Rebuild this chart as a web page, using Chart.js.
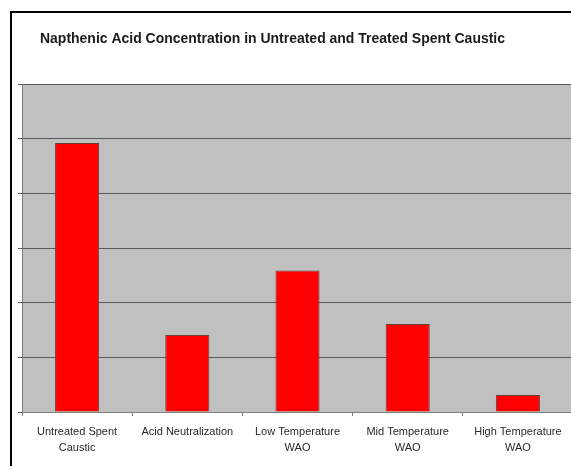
<!DOCTYPE html>
<html>
<head>
<meta charset="utf-8">
<script src="https://cdn.jsdelivr.net/npm/chart.js@4/dist/chart.umd.min.js"></script>
<style>
  html, body { margin: 0; padding: 0; background: #fff; overflow: hidden; }
  #wrap { width: 571px; height: 466px; overflow: hidden; position: relative; }
  canvas { position: absolute; left: 0; top: 0; }
</style>
</head>
<body>
<div id="wrap"><canvas id="chart" width="580" height="466"></canvas></div>
<script>
const chartTitle = "Napthenic Acid Concentration in Untreated and Treated Spent Caustic";
const categories = [
    ["Untreated Spent", "Caustic"],
    ["Acid Neutralization"],
    ["Low Temperature", "WAO"],
    ["Mid Temperature", "WAO"],
    ["High Temperature", "WAO"]
];
const concentrations = [4.92, 1.41, 2.59, 1.61, 0.31];
const yTicks = [0, 1, 2, 3, 4, 5, 6];

// frame lines + title, drawn outside the chart area
const framePlugin = {
    id: "frame",
    beforeDraw(chart) {
        const ctx = chart.ctx;
        ctx.save();
        ctx.fillStyle = "#fff";
        ctx.fillRect(0, 0, chart.width, chart.height);
        ctx.fillStyle = "#000";
        ctx.fillRect(10, 11, 2, chart.height - 11);
        ctx.fillRect(10, 11, chart.width - 10, 2);
        // gray plot background
        const a = chart.chartArea;
        ctx.fillStyle = "#c0c0c0";
        ctx.fillRect(a.left, a.top, a.right - a.left, a.bottom - a.top);
        ctx.restore();
    },
    afterDraw(chart) {
        const ctx = chart.ctx;
        ctx.save();
        ctx.font = "bold 15px 'Liberation Sans', Arial, sans-serif";
        ctx.fillStyle = "#1a1a1a";
        ctx.textBaseline = "middle";
        const w = ctx.measureText(chartTitle).width;
        ctx.translate(40, 39);
        ctx.scale(465 / w, 1);
        ctx.fillText(chartTitle, 0, 0);
        ctx.restore();
    }
};

new Chart(document.getElementById("chart"), {
    type: "bar",
    data: {
        labels: categories,
        datasets: [{
            data: concentrations,
            backgroundColor: "#ff0000",
            borderColor: "#6e3b3b",
            borderWidth: 1,
            barPercentage: 0.4,
            categoryPercentage: 1
        }]
    },
    options: {
        responsive: false,
        animation: false,
        layout: { padding: { left: 18, right: 7, top: 84, bottom: 2 } },
        plugins: {
            legend: { display: false },
            tooltip: { enabled: false }
        },
        scales: {
            x: {
                offset: true,
                grid: {
                    offset: true,
                    drawOnChartArea: false,
                    drawTicks: true,
                    tickLength: 4,
                    color: "#808080"
                },
                border: { color: "#808080", width: 1 },
                ticks: {
                    color: "#2a2a2a",
                    padding: 8,
                    maxRotation: 0,
                    autoSkip: false,
                    font: { family: "'Liberation Sans', Arial, sans-serif", size: 11, lineHeight: 16 / 11 }
                }
            },
            y: {
                min: yTicks[0],
                max: yTicks[yTicks.length - 1],
                afterBuildTicks(scale) {
                    scale.ticks = yTicks.map(v => ({ value: v }));
                },
                grid: {
                    color: "#5a5a5a",
                    lineWidth: 1,
                    tickLength: 4
                },
                border: { color: "#808080", width: 1 },
                ticks: { display: false }
            }
        }
    },
    plugins: [framePlugin]
});
</script>
</body>
</html>
